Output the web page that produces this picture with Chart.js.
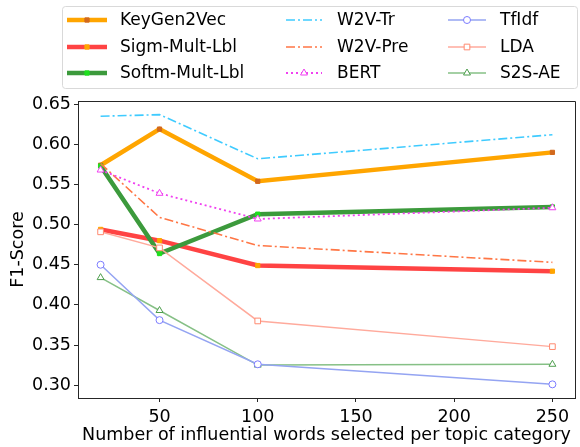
<!DOCTYPE html>
<html>
<head>
<meta charset="utf-8">
<script src="https://cdn.jsdelivr.net/npm/chart.js@4/dist/chart.umd.min.js"></script>
<style>
  html, body { margin: 0; padding: 0; background: #fff; }
  #wrap { width: 580px; height: 447px; }
</style>
</head>
<body>
<div id="wrap"><canvas id="chart" width="580" height="447"></canvas></div>
<script>
const wordCounts = [20, 50, 100, 250];
const xTicks = [50, 100, 150, 200, 250];
const yTicks = [0.30, 0.35, 0.40, 0.45, 0.50, 0.55, 0.60, 0.65];

const keyGen2Vec = [0.574, 0.619, 0.554, 0.590];
const sigmMultLbl = [0.494, 0.480, 0.449, 0.442];
const softmMultLbl = [0.573, 0.464, 0.513, 0.522];
const w2vTr = [0.635, 0.637, 0.582, 0.612];
const w2vPre = [0.576, 0.509, 0.474, 0.453];
const bert = [0.568, 0.539, 0.507, 0.521];
const tfIdf = [0.450, 0.381, 0.326, 0.301];
const lda = [0.491, 0.471, 0.380, 0.348];
const s2sAe = [0.434, 0.393, 0.325, 0.326];

const FONT = "'DejaVu Sans', sans-serif";
const pts = (ys) => ys.map((y, i) => ({ x: wordCounts[i], y }));

const series = [
  { label: "KeyGen2Vec", data: keyGen2Vec, color: "#ffa500", width: 4.5, dash: [], marker: "rect", mFill: "#d2691e", mEdge: "#d2691e", r: 3, col: 0, row: 0, order: 3 },
  { label: "Sigm-Mult-Lbl", data: sigmMultLbl, color: "#ff4343", width: 4.5, dash: [], marker: "rect", mFill: "#ffa500", mEdge: "#ffa500", r: 3, col: 0, row: 1, order: 3 },
  { label: "Softm-Mult-Lbl", data: softmMultLbl, color: "#3c9a3c", width: 4.5, dash: [], marker: "rect", mFill: "#1ee01e", mEdge: "#1ee01e", r: 3, col: 0, row: 2, order: 2 },
  { label: "W2V-Tr", data: w2vTr, color: "#3fcbff", width: 1.6, dash: [9, 3, 2, 3], marker: false, col: 1, row: 0, order: 1 },
  { label: "W2V-Pre", data: w2vPre, color: "#ff7645", width: 1.6, dash: [9, 3, 2, 3], marker: false, col: 1, row: 1, order: 1 },
  { label: "BERT", data: bert, color: "#f040f0", width: 1.8, dash: [2, 3], marker: "triangle", mFill: "#ffffff", mEdge: "#f040f0", r: 4, col: 1, row: 2, order: 0 },
  { label: "TfIdf", data: tfIdf, color: "#94a4f2", width: 1.5, dash: [], marker: "circle", mFill: "#ffffff", mEdge: "#7b7bff", r: 3.5, col: 2, row: 0, order: 1 },
  { label: "LDA", data: lda, color: "#ffaa9c", width: 1.5, dash: [], marker: "rect", mFill: "#ffffff", mEdge: "#ff8a70", r: 4, col: 2, row: 1, order: 1 },
  { label: "S2S-AE", data: s2sAe, color: "#86c086", width: 1.5, dash: [], marker: "triangle", mFill: "#ffffff", mEdge: "#4e9e4e", r: 4, col: 2, row: 2, order: 1 }
];

const legendCols = [
  { x0: 67, x1: 107, tx: 120 },
  { x0: 286, x1: 322, tx: 337 },
  { x0: 448, x1: 486, tx: 500 }
];
const legendRows = [20, 47, 73];

function drawMarker(ctx, s, x, y) {
  if (!s.marker) return;
  ctx.save();
  ctx.setLineDash([]);
  Chart.helpers.drawPoint(ctx, {
    pointStyle: s.marker, radius: s.r, borderWidth: 1
  }, x, y);
  ctx.restore();
}

const legendPlugin = {
  id: "boxLegend",
  afterDraw(chart) {
    const ctx = chart.ctx;
    ctx.save();
    // legend frame
    ctx.strokeStyle = "#d9d9d9";
    ctx.fillStyle = "rgba(255,255,255,0.8)";
    ctx.lineWidth = 1;
    ctx.beginPath();
    ctx.roundRect(62.5, 6.5, 515, 82, 3);
    ctx.fill();
    ctx.stroke();
    ctx.font = "17px " + FONT;
    ctx.textBaseline = "middle";
    series.forEach((s) => {
      const c = legendCols[s.col];
      const y = legendRows[s.row];
      ctx.strokeStyle = s.color;
      ctx.lineWidth = s.width;
      ctx.setLineDash(s.dash);
      ctx.lineCap = "butt";
      ctx.beginPath();
      ctx.moveTo(c.x0, y);
      ctx.lineTo(c.x1, y);
      ctx.stroke();
      if (s.marker) {
        ctx.fillStyle = s.mFill;
        ctx.strokeStyle = s.mEdge;
        ctx.lineWidth = 1;
        drawMarker(ctx, s, (c.x0 + c.x1) / 2, y);
      }
      ctx.setLineDash([]);
      ctx.fillStyle = "#000";
      ctx.fillText(s.label, c.tx, y + 1);
    });
    // plot frame top / right
    const a = chart.chartArea;
    ctx.strokeStyle = "#262626";
    ctx.lineWidth = 1;
    ctx.beginPath();
    ctx.moveTo(a.left, a.top + 0.5);
    ctx.lineTo(a.right + 0.5, a.top + 0.5);
    ctx.lineTo(a.right + 0.5, a.bottom);
    ctx.stroke();
    ctx.restore();
  }
};

new Chart(document.getElementById("chart"), {
  type: "line",
  data: {
    datasets: series.map((s) => ({
      label: s.label,
      data: pts(s.data),
      borderColor: s.color,
      borderWidth: s.width,
      borderDash: s.dash,
      fill: false,
      tension: 0,
      order: s.order,
      pointStyle: s.marker || "circle",
      pointRadius: s.marker ? s.r : 0,
      pointBackgroundColor: s.mFill,
      pointBorderColor: s.mEdge,
      pointBorderWidth: 1
    }))
  },
  plugins: [legendPlugin],
  options: {
    responsive: false,
    animation: false,
    events: [],
    layout: { padding: { top: 101, right: 3, left: 0, bottom: 0 } },
    plugins: { legend: { display: false }, tooltip: { enabled: false } },
    scales: {
      x: {
        type: "linear",
        min: 8.5,
        max: 261.5,
        afterBuildTicks: (s) => { s.ticks = xTicks.map((v) => ({ value: v })); },
        afterFit: (s) => { s.height = 49; },
        grid: { display: true, drawOnChartArea: false, color: "#262626", tickLength: 4, tickWidth: 1 },
        border: { display: true, color: "#262626", width: 1 },
        ticks: { color: "#000", font: { family: FONT, size: 17.5 }, padding: 5, maxRotation: 0 },
        title: { display: true, text: "Number of influential words selected per topic category", color: "#000", font: { family: FONT, size: 17.5 }, padding: { top: 0, bottom: 1 } }
      },
      y: {
        type: "linear",
        min: 0.284,
        max: 0.654,
        afterBuildTicks: (s) => { s.ticks = yTicks.map((v) => ({ value: v })); },
        afterFit: (s) => { s.width = 78; },
        grid: { display: true, drawOnChartArea: false, color: "#262626", tickLength: 4, tickWidth: 1 },
        border: { display: true, color: "#262626", width: 1 },
        ticks: { color: "#000", font: { family: FONT, size: 17.5 }, padding: 3, callback: (v) => v.toFixed(2) },
        title: { display: true, text: "F1-Score", color: "#000", font: { family: FONT, size: 17.5 }, padding: { top: 8, bottom: 0 } }
      }
    }
  }
});
</script>
</body>
</html>
